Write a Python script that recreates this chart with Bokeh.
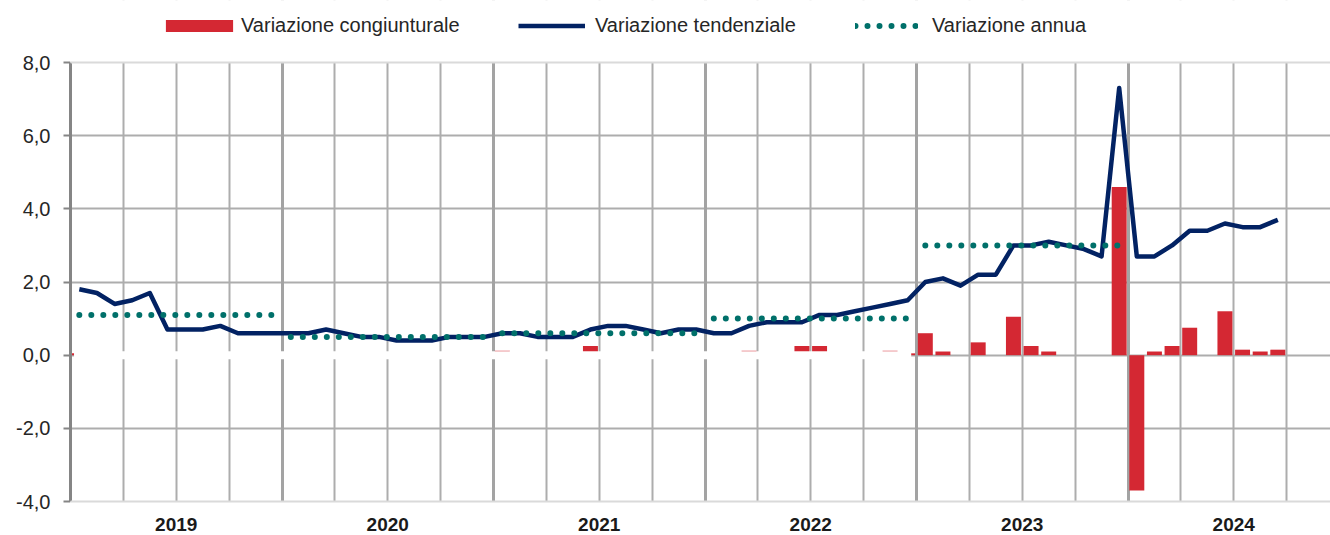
from bokeh.plotting import figure
from bokeh.models import (Range1d, FixedTicker, CustomJSTickFormatter, Grid, Span, BoxAnnotation,
                          Legend, LegendItem, LabelSet, ColumnDataSource)
from bokeh.core.properties import value
from bokeh.embed import file_html
from bokeh.resources import INLINE

# ---------------- data ----------------
years = [2019, 2020, 2021, 2022, 2023, 2024]

# monthly, Jan 2019 .. Sep 2024
tendenziale = [
    1.8, 1.7, 1.4, 1.5, 1.7, 0.7, 0.7, 0.7, 0.8, 0.6, 0.6, 0.6,   # 2019
    0.6, 0.6, 0.7, 0.6, 0.5, 0.5, 0.4, 0.4, 0.4, 0.5, 0.5, 0.5,   # 2020
    0.6, 0.6, 0.5, 0.5, 0.5, 0.7, 0.8, 0.8, 0.7, 0.6, 0.7, 0.7,   # 2021
    0.6, 0.6, 0.8, 0.9, 0.9, 0.9, 1.1, 1.1, 1.2, 1.3, 1.4, 1.5,   # 2022
    2.0, 2.1, 1.9, 2.2, 2.2, 3.0, 3.0, 3.1, 3.0, 2.9, 2.7, 7.3,   # 2023
    2.7, 2.7, 3.0, 3.4, 3.4, 3.6, 3.5, 3.5, 3.7,                  # 2024
]
congiunturale = [
    0.05, 0, 0, 0, 0, 0, 0, 0, 0, 0, 0, 0,                        # 2019
    0, 0, 0, 0, 0, 0, 0, 0, 0, 0, 0, 0,                           # 2020
    0.12, 0, 0, 0, 0, 0.25, 0, 0, 0, 0, 0, 0,                     # 2021
    0, 0, 0.12, 0, 0, 0.25, 0.25, 0, 0, 0, 0.12, 0.05,            # 2022
    0.6, 0.1, 0, 0.35, 0, 1.05, 0.25, 0.1, 0, 0, 0, 4.6,          # 2023
    -3.7, 0.1, 0.25, 0.75, 0, 1.2, 0.15, 0.1, 0.15,               # 2024
]
annua_years = [2019, 2020, 2021, 2022, 2023]
annua = [1.1, 0.5, 0.6, 1.0, 3.0]

y_ticks = [-4, -2, 0, 2, 4, 6, 8]

# ---------------- styles ----------------
FONT = "'Liberation Sans', Arial, sans-serif"
RED = "#D42833"
NAVY = "#022263"
TEAL = "#00706A"
TXT = "#262626"

n = len(tendenziale)
xc = [i + 0.5 for i in range(n)]
first_year = years[0]
ymin, ymax = y_ticks[0], y_ticks[-1]

# frame covers the whole picture height so legend and year labels are inside it
PX_PER_UNIT = 439 / (ymax - ymin)
y_top = ymax + 62 / PX_PER_UNIT
y_bot = ymin - 34 / PX_PER_UNIT

p = figure(width=1330, height=535, output_backend="svg", toolbar_location=None,
           x_range=Range1d(0, 1260 / 17.625), y_range=Range1d(y_bot, y_top),
           x_axis_location=None,
           min_border_left=70, min_border_right=0, min_border_top=0, min_border_bottom=0)
p.outline_line_color = None
p.background_fill_color = "white"
p.border_fill_color = "white"

# grids
quarters = [q for q in range(3, 72, 3) if q % 12 != 0]
year_bounds = [12 * k for k in range(1, 6)]
p.xgrid.ticker = FixedTicker(ticks=quarters)
p.xgrid.grid_line_color = "#ADADAD"
p.xgrid.grid_line_width = 2
p.ygrid.ticker = FixedTicker(ticks=[-2, 0, 2, 4, 6])
p.ygrid.grid_line_color = "#ADADAD"
p.ygrid.grid_line_width = 2
p.add_layout(Grid(dimension=0, ticker=FixedTicker(ticks=year_bounds),
                  grid_line_color="#A3A3A3", grid_line_width=3))

# y axis
ax = p.yaxis[0]
ax.bounds = (ymin, ymax)
ax.ticker = FixedTicker(ticks=y_ticks)
ax.formatter = CustomJSTickFormatter(code="return tick.toFixed(1).replace('.', ',');")
ax.axis_line_color = "#858585"
ax.axis_line_width = 3
ax.major_tick_line_color = "#858585"
ax.major_tick_line_width = 2
ax.major_tick_out = 7
ax.major_tick_in = 0
ax.minor_tick_out = 0
ax.minor_tick_in = 0
ax.major_label_standoff = 13
ax.major_label_text_font = FONT
ax.major_label_text_font_size = "20px"
ax.major_label_text_color = TXT

# bars
bar_src = ColumnDataSource(dict(x=xc, top=congiunturale))
bars = p.vbar(x="x", top="top", bottom=0, width=0.85, source=bar_src,
              fill_color=RED, line_color=None)

# white axis band over the zero line (left part)
p.add_layout(BoxAnnotation(left=0.2, right=47.7, bottom=-0.11, top=0.11,
                           fill_color="white", fill_alpha=1.0, line_color=None,
                           editable=False))
# blank out grid outside the plotting band (above max / below min)
p.add_layout(BoxAnnotation(bottom=ymax, top=y_top + 1, left=-1, right=100,
                           fill_color="white", fill_alpha=1.0, line_color=None))
p.add_layout(BoxAnnotation(bottom=y_bot - 1, top=ymin, left=-1, right=100,
                           fill_color="white", fill_alpha=1.0, line_color=None))
p.add_layout(Span(location=ymax, dimension="width", line_color="#DADADA", line_width=2))
p.add_layout(Span(location=ymin, dimension="width", line_color="#DADADA", line_width=2))

# tendenziale line
line = p.line(xc, tendenziale, line_color=NAVY, line_width=4.5, line_join="round")

# annual average dotted segments
xs, ys = [], []
for yr, v in zip(annua_years, annua):
    k = yr - first_year
    xs.append([12 * k + 0.5, 12 * k + 11.5])
    ys.append([v, v])
dots = p.multi_line(xs, ys, line_color=TEAL, line_width=6, line_dash="0 12", line_cap="round")

# legends (each positioned separately)
def mk_legend(label, r, x, gw, gh, standoff):
    return Legend(items=[LegendItem(label=label, renderers=[r])],
                  location=(x, 498), orientation="horizontal",
                  glyph_width=gw, glyph_height=gh, label_standoff=standoff,
                  padding=0, margin=0, spacing=0,
                  border_line_color=None, background_fill_alpha=0,
                  label_text_font=FONT, label_text_font_size="20px",
                  label_text_color=TXT)

p.add_layout(mk_legend("Variazione congiunturale", bars, 87, 84, 15, 0))
p.add_layout(mk_legend("Variazione tendenziale", line, 448, 67, 15, 10))
p.add_layout(mk_legend("Variazione annua", dots, 785, 63, 15, 14))

# year labels
yl_src = ColumnDataSource(dict(x=[12 * (yr - first_year) + 6 for yr in years],
                               y=[ymin] * len(years),
                               t=[str(yr) for yr in years]))
p.add_layout(LabelSet(x="x", y="y", text="t", source=yl_src,
                      text_align="center", text_baseline="middle", y_offset=-23,
                      text_font=value(FONT), text_font_size="19px",
                      text_font_style="bold", text_color="#1A1A1A"))

open("out.html", "w").write(file_html(p, INLINE))
